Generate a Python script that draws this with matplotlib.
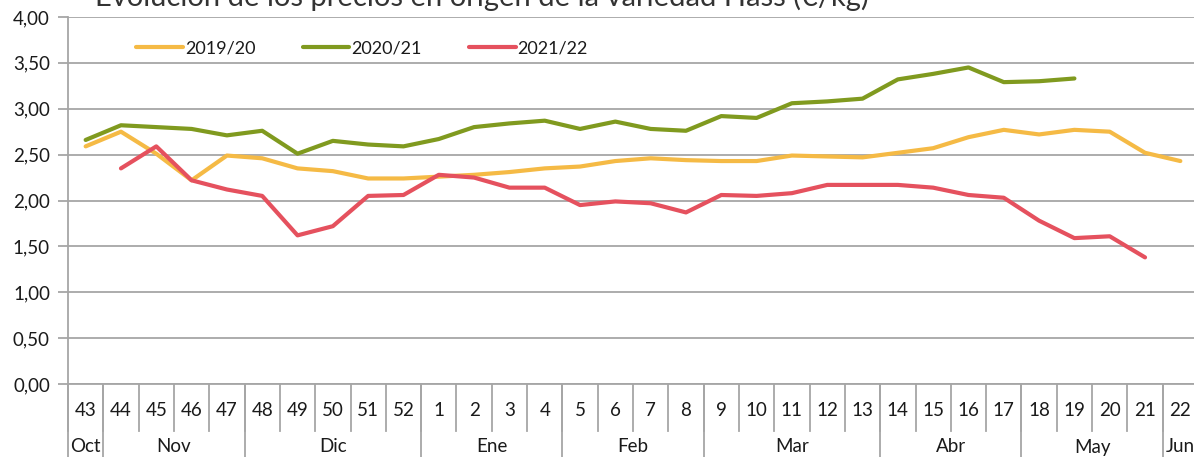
import numpy as np
import matplotlib.pyplot as plt
import matplotlib.transforms as mtransforms

# ------------------------------------------------------------------
# Data: weekly origin prices of Hass avocado (EUR/kg)
# ------------------------------------------------------------------
weeks = ['43', '44', '45', '46', '47', '48', '49', '50', '51', '52',
         '1', '2', '3', '4', '5', '6', '7', '8', '9', '10', '11', '12', '13',
         '14', '15', '16', '17', '18', '19', '20', '21', '22']
months = ['Oct', 'Nov', 'Dic', 'Ene', 'Feb', 'Mar', 'Abr', 'May', 'Jun']
weeks_per_month = [1, 4, 5, 4, 4, 5, 4, 4, 1]

nan = np.nan
s1920 = [2.59, 2.75, 2.51, 2.22, 2.49, 2.46, 2.35, 2.32, 2.24, 2.24,
         2.26, 2.28, 2.31, 2.35, 2.37, 2.43, 2.46, 2.44, 2.43, 2.43, 2.49, 2.48, 2.47,
         2.52, 2.57, 2.69, 2.77, 2.72, 2.77, 2.75, 2.52, 2.43]
s2021 = [2.66, 2.82, 2.80, 2.78, 2.71, 2.76, 2.51, 2.65, 2.61, 2.59,
         2.67, 2.80, 2.84, 2.87, 2.78, 2.86, 2.78, 2.76, 2.92, 2.90, 3.06, 3.08, 3.11,
         3.32, 3.38, 3.45, 3.29, 3.30, 3.33, nan, nan, nan]
s2122 = [nan, 2.35, 2.59, 2.22, 2.12, 2.05, 1.62, 1.72, 2.05, 2.06,
         2.28, 2.25, 2.14, 2.14, 1.95, 1.99, 1.97, 1.87, 2.06, 2.05, 2.08, 2.17, 2.17,
         2.17, 2.14, 2.06, 2.03, 1.78, 1.59, 1.61, 1.38, nan]

series = [('2019/20', s1920, '#F5BA45'),
          ('2020/21', s2021, '#809A1F'),
          ('2021/22', s2122, '#E5515E')]

font = 'Lato'
txt = '#1a1a1a'
grid_c = '#a6a6a6'

fig = plt.figure(figsize=(11.94, 4.57), dpi=100)
ax = fig.add_axes([68 / 1194, 73 / 457, (1198 - 68) / 1194, (384 - 17) / 457])

x = np.arange(len(weeks))
for name, vals, col in series:
    ax.plot(x, vals, color=col, lw=3.0, label=name, solid_capstyle='round')

ax.set_xlim(-0.5, len(weeks) - 0.5)
ax.set_ylim(0, 4)
yt = np.arange(0, 4.01, 0.5)
ax.set_yticks(yt)
ax.set_yticklabels([f'{v:.2f}'.replace('.', ',') for v in yt],
                   fontsize=13.5, family=font, color=txt)
ax.yaxis.grid(True, color=grid_c, lw=1.3)
ax.set_axisbelow(True)
ax.tick_params(axis='y', length=7, width=1.3, color=grid_c, pad=6)

for sp in ['top', 'right']:
    ax.spines[sp].set_visible(False)
ax.spines['left'].set_color(grid_c)
ax.spines['left'].set_linewidth(1.3)
ax.spines['bottom'].set_color(grid_c)
ax.spines['bottom'].set_linewidth(1.3)

# two-level category axis (weeks / months)
ax.set_xticks([])
trans = mtransforms.blended_transform_factory(ax.transData, ax.transAxes)
px = 1 / (384 - 17)
for i, w in enumerate(weeks):
    ax.text(i, -26 * px, w, transform=trans, ha='center', va='center',
            fontsize=13.5, family=font, color=txt)
for i in range(len(weeks) + 1):
    ax.plot([i - 0.5, i - 0.5], [0, -47 * px], transform=trans, color=grid_c,
            lw=1.3, clip_on=False)
start = 0
bounds = [0]
for m, n in zip(months, weeks_per_month):
    ax.text(start + (n - 1) / 2, -63 * px, m, transform=trans, ha='center',
            va='center', fontsize=13.5, family=font, color=txt)
    start += n
    bounds.append(start)
for b in bounds:
    ax.plot([b - 0.5, b - 0.5], [0, -80 * px], transform=trans, color=grid_c,
            lw=1.3, clip_on=False)

leg = ax.legend(loc='center', bbox_to_anchor=(362 / 1194, 1 - 48 / 457),
                bbox_transform=fig.transFigure, ncol=3, frameon=False,
                handlelength=2.6, handletextpad=0.1, columnspacing=2.6,
                prop={'family': font, 'size': 13})
for t in leg.get_texts():
    t.set_color(txt)

# title sits partly above the canvas, as in the source image
fig.text(482 / 1194, 1 - 6 / 457,
         'Evolución de los precios en origen de la variedad Hass (€/kg)',
         ha='center', va='baseline', fontsize=21, family=font, color='#333333')

fig.savefig('out.png', dpi=100)
